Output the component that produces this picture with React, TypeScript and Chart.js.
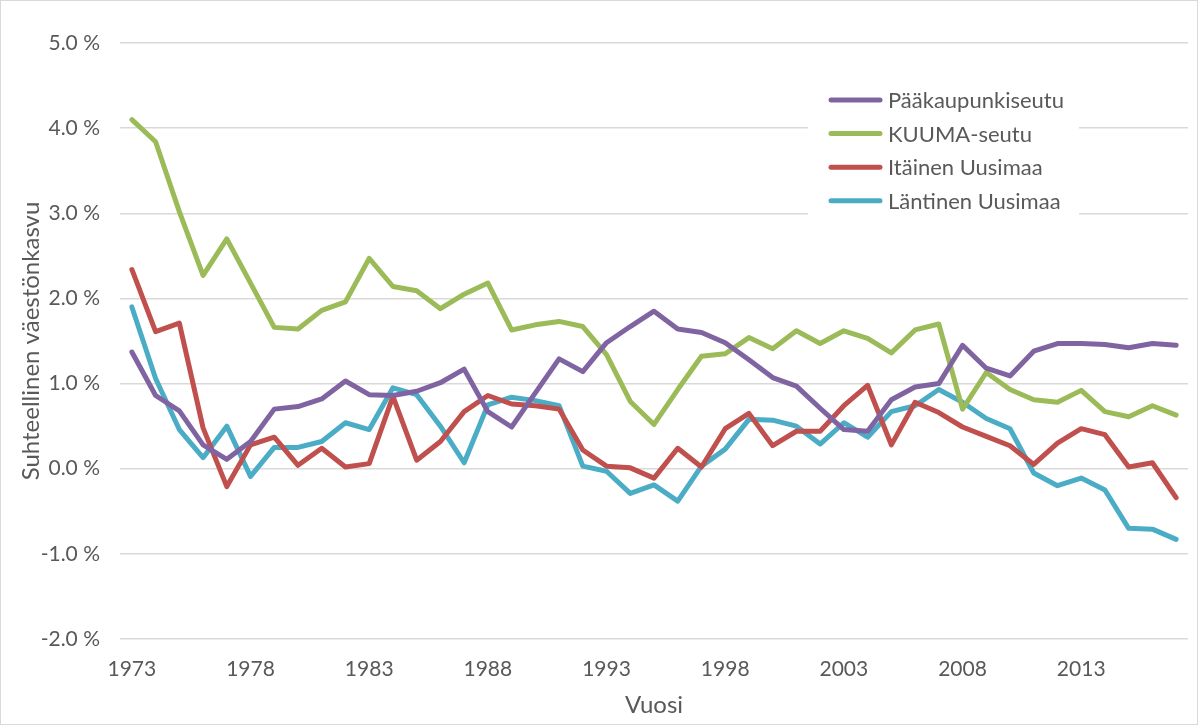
import React, { useEffect, useRef } from 'react';
import { Chart, registerables } from 'chart.js';

Chart.register(...registerables);

const years = [
  '1973', '1974', '1975', '1976', '1977', '1978', '1979', '1980', '1981', '1982',
  '1983', '1984', '1985', '1986', '1987', '1988', '1989', '1990', '1991', '1992',
  '1993', '1994', '1995', '1996', '1997', '1998', '1999', '2000', '2001', '2002',
  '2003', '2004', '2005', '2006', '2007', '2008', '2009', '2010', '2011', '2012',
  '2013', '2014', '2015', '2016', '2017',
];

const paakaupunkiseutu = [
  1.37, 0.86, 0.68, 0.28, 0.11, 0.32, 0.70, 0.73, 0.82, 1.03,
  0.87, 0.86, 0.91, 1.01, 1.17, 0.67, 0.49, 0.89, 1.29, 1.14,
  1.48, 1.67, 1.85, 1.64, 1.60, 1.48, 1.28, 1.07, 0.97, 0.71,
  0.46, 0.44, 0.81, 0.96, 1.00, 1.45, 1.18, 1.09, 1.38, 1.47,
  1.47, 1.46, 1.42, 1.47, 1.45,
];

const kuumaSeutu = [
  4.10, 3.84, 3.02, 2.27, 2.70, 2.18, 1.66, 1.64, 1.86, 1.96,
  2.47, 2.14, 2.09, 1.88, 2.05, 2.18, 1.63, 1.69, 1.73, 1.67,
  1.34, 0.79, 0.52, 0.93, 1.32, 1.35, 1.54, 1.41, 1.62, 1.47,
  1.62, 1.53, 1.36, 1.63, 1.70, 0.70, 1.13, 0.93, 0.81, 0.78,
  0.92, 0.67, 0.61, 0.74, 0.63,
];

const itainenUusimaa = [
  2.34, 1.61, 1.71, 0.48, -0.21, 0.28, 0.37, 0.04, 0.24, 0.02,
  0.06, 0.85, 0.10, 0.32, 0.67, 0.86, 0.76, 0.74, 0.70, 0.22,
  0.03, 0.01, -0.11, 0.24, 0.02, 0.47, 0.65, 0.27, 0.44, 0.44,
  0.74, 0.98, 0.28, 0.78, 0.66, 0.49, 0.38, 0.27, 0.05, 0.30,
  0.47, 0.40, 0.02, 0.07, -0.34,
];

const lantinenUusimaa = [
  1.90, 1.06, 0.46, 0.13, 0.50, -0.09, 0.25, 0.25, 0.32, 0.54,
  0.46, 0.95, 0.87, 0.50, 0.07, 0.75, 0.84, 0.80, 0.74, 0.03,
  -0.03, -0.29, -0.19, -0.38, 0.03, 0.23, 0.58, 0.57, 0.50, 0.29,
  0.54, 0.37, 0.67, 0.74, 0.93, 0.78, 0.59, 0.47, -0.05, -0.20,
  -0.11, -0.25, -0.70, -0.71, -0.83,
];

const seriesNames = ['Pääkaupunkiseutu', 'KUUMA-seutu', 'Itäinen Uusimaa', 'Läntinen Uusimaa'];
const seriesColors = ['#8064A2', '#9BBB59', '#C0504D', '#4BACC6'];

const FONT = 'Lato, "Open Sans", sans-serif';
const TEXT = '#595959';

const legendPlugin = {
  id: 'boxLegend',
  afterDatasetsDraw(chart: any) {
    const ctx = chart.ctx;
    const { right, top } = chart.chartArea;
    ctx.save();
    ctx.fillStyle = '#ffffff';
    ctx.fillRect(right - 380, top + 37, 271, 143);
    ctx.font = '22px ' + FONT;
    ctx.textBaseline = 'middle';
    ctx.textAlign = 'left';
    seriesNames.forEach((name, i) => {
      const y = top + 57 + i * 33.6;
      ctx.strokeStyle = seriesColors[i];
      ctx.lineWidth = 5;
      ctx.lineCap = 'round';
      ctx.beginPath();
      ctx.moveTo(right - 357, y);
      ctx.lineTo(right - 308, y);
      ctx.stroke();
      ctx.fillStyle = TEXT;
      ctx.fillText(name, right - 300, y + 1);
    });
    ctx.restore();
  },
};

export default function App() {
  const canvasRef = useRef<HTMLCanvasElement | null>(null);

  useEffect(() => {
    if (!canvasRef.current) return;
    const values = [paakaupunkiseutu, kuumaSeutu, itainenUusimaa, lantinenUusimaa];
    const chart = new Chart(canvasRef.current, {
      type: 'line',
      data: {
        labels: years,
        datasets: seriesNames.map((name, i) => ({
          label: name,
          data: values[i],
          borderColor: seriesColors[i],
          backgroundColor: seriesColors[i],
          borderWidth: 5,
          pointRadius: 0,
          tension: 0,
          borderJoinStyle: 'round' as const,
          borderCapStyle: 'round' as const,
        })),
      },
      options: {
        animation: false,
        responsive: true,
        maintainAspectRatio: false,
        layout: { padding: { left: 12, right: 9, top: 42, bottom: 0 } },
        plugins: {
          legend: { display: false },
          tooltip: { enabled: false },
        },
        scales: {
          x: {
            offset: true,
            grid: { display: false, drawTicks: false },
            border: { display: false },
            ticks: {
              autoSkip: false,
              maxRotation: 0,
              padding: 18,
              color: TEXT,
              font: { family: FONT, size: 21 },
              callback: (_v: any, i: number) => (i % 5 === 0 ? years[i] : ''),
            },
            title: {
              display: true,
              text: 'Vuosi',
              color: TEXT,
              font: { family: FONT, size: 24 },
            },
            afterFit: (scale: any) => {
              scale.height = 85;
            },
          },
          y: {
            min: -2,
            max: 5,
            grid: { color: '#d9d9d9', lineWidth: 1.5, drawTicks: false },
            border: { display: false },
            ticks: {
              stepSize: 1,
              padding: 20,
              color: TEXT,
              font: { family: FONT, size: 21 },
              callback: (v: any) => Number(v).toFixed(1) + ' %',
            },
            title: {
              display: true,
              text: 'Suhteellinen väestönkasvu',
              color: TEXT,
              font: { family: FONT, size: 24 },
            },
            afterFit: (scale: any) => {
              scale.width = 107;
            },
          },
        },
      },
      plugins: [legendPlugin],
    });
    return () => chart.destroy();
  }, []);

  return (
    <div
      style={{
        position: 'absolute',
        left: 0,
        top: 0,
        width: 1198,
        height: 725,
        boxSizing: 'border-box',
        border: '1px solid #d9d9d9',
        background: '#ffffff',
      }}
    >
      <canvas ref={canvasRef} />
    </div>
  );
}
